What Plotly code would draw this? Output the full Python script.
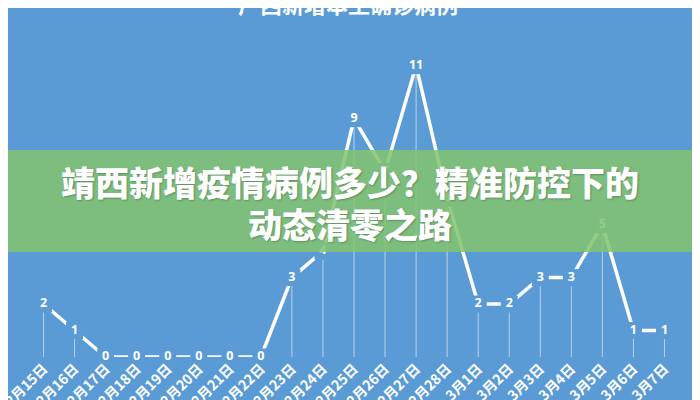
import plotly.graph_objects as go

dates = ["2月15日", "2月16日", "2月17日", "2月18日", "2月19日", "2月20日", "2月21日",
         "2月22日", "2月23日", "2月24日", "2月25日", "2月26日", "2月27日", "2月28日",
         "3月1日", "3月2日", "3月3日", "3月4日", "3月5日", "3月6日", "3月7日"]
cases = [2, 1, 0, 0, 0, 0, 0, 0, 3, 4, 9, 7, 11, 6, 2, 2, 3, 3, 5, 1, 1]

chart_title = "广西新增本土确诊病例"
overlay_line1 = "靖西新增疫情病例多少？精准防控下的"
overlay_line2 = "动态清零之路"

BG = "#5B9BD5"
W, H = 700, 400
OFF = 8  # page body margin
# plot area in page pixels: x 28..680, y 26..357
L, R, T, B = 28 - OFF, W - (680 - OFF), 26 - OFF, H - (357 - OFF)
ph = H - T - B
pw = W - L - R

def py(p):
    return (H - B - (p - OFF)) / ph

def px(p):
    return (p - OFF - L) / pw

fig = go.Figure()

# drop lines
fig.add_trace(go.Scatter(
    x=dates, y=cases, mode="markers",
    marker=dict(size=0.1, color="rgba(0,0,0,0)"),
    error_y=dict(type="data", symmetric=False, array=[0] * len(cases), arrayminus=cases,
                 color="rgba(255,255,255,0.55)", thickness=1, width=0),
    hoverinfo="skip", showlegend=False, cliponaxis=False,
))

# main line with label boxes
fig.add_trace(go.Scatter(
    x=dates, y=cases, mode="lines+markers+text",
    line=dict(color="white", width=3.5),
    marker=dict(symbol="square", size=17, color=BG, line=dict(width=0)),
    text=[str(v) for v in cases], textposition="middle center",
    textfont=dict(family="Open Sans", size=12.5, color="white", weight=700),
    showlegend=False, cliponaxis=False,
))

fig.update_layout(
    width=W, height=H,
    margin=dict(l=L, r=R, t=T, b=B, autoexpand=False),
    paper_bgcolor=BG, plot_bgcolor=BG,
    xaxis=dict(type="category", range=[-0.5, len(dates) - 0.5], showgrid=False, zeroline=False,
               showline=False, ticks="", tickangle=-45, automargin=False,
               tickfont=dict(family="Noto Sans CJK SC", size=14, color="white", weight=700)),
    yaxis=dict(range=[0, 12.5], showgrid=False, zeroline=False, showline=False,
               showticklabels=False, ticks="", automargin=False),
    shapes=[dict(type="rect", xref="paper", yref="paper",
                 x0=px(0), x1=px(710), y0=py(252), y1=py(150),
                 fillcolor="rgba(130,196,112,0.86)", line=dict(width=0), layer="above")],
    annotations=[
        dict(text=chart_title, xref="paper", yref="paper", x=px(348), y=py(3),
             xanchor="center", yanchor="middle", showarrow=False,
             font=dict(family="Noto Sans CJK SC", size=22, color="white", weight=700)),
        dict(text=overlay_line1, xref="paper", yref="paper", x=px(350), y=py(181),
             xanchor="center", yanchor="middle", showarrow=False,
             font=dict(family="Noto Sans CJK SC", size=34, color="white", weight=900,
                       shadow="1px 1px 2px rgba(0,0,0,0.25)")),
        dict(text=overlay_line2, xref="paper", yref="paper", x=px(350), y=py(223),
             xanchor="center", yanchor="middle", showarrow=False,
             font=dict(family="Noto Sans CJK SC", size=34, color="white", weight=900,
                       shadow="1px 1px 2px rgba(0,0,0,0.25)")),
    ],
)

fig.write_html("out.html")
